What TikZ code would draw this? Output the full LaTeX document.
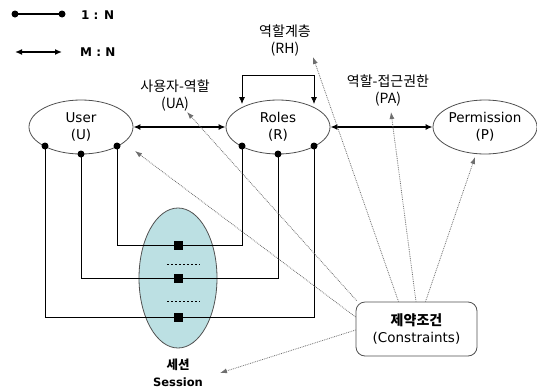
\documentclass[tikz,border=0pt]{standalone}
\usepackage{fontspec}
\setmainfont{DejaVu Sans}
\newfontfamily\kr{Noto Sans CJK KR}
\usetikzlibrary{arrows.meta,shapes.geometric}
\definecolor{sessfill}{RGB}{188,224,227}
\definecolor{ellline}{RGB}{80,80,80}
\definecolor{dotgray}{RGB}{110,110,110}
\tikzset{
  lbl/.style={font=\fontsize{13.5}{16.5}\selectfont, align=center, inner sep=0pt},
  krlbl/.style={lbl, font=\kr\fontsize{14}{17}\selectfont},
  ent/.style={ellipse, draw=ellline, thick, minimum width=104pt, minimum height=54pt, inner sep=0pt, align=center, font=\fontsize{13.5}{16.5}\selectfont},
  rel/.style={line width=1.6pt, {Latex[length=7pt,width=6pt]}-{Latex[length=7pt,width=6pt]}},
  link/.style={line width=0.8pt},
  dotmark/.style={circle, fill=black, inner sep=0pt, minimum size=7pt},
  sq/.style={rectangle, fill=black, inner sep=0pt, minimum size=9pt},
  cons/.style={densely dotted, dotgray, line width=0.8pt, -{Latex[length=7pt,width=5pt]}},
  rh/.style={line width=0.8pt, -{Latex[length=7pt,width=6pt]}},
  leg/.style={inner sep=0pt, anchor=west, font=\bfseries\fontsize{12}{14}\selectfont}
}
\begin{document}
\begin{tikzpicture}[x=1pt,y=-1pt]
\useasboundingbox (0,0) rectangle (537,388);
% legend
\coordinate (la) at (15,14);
\coordinate (lb) at (62,14);
\draw[line width=1.6pt] (la) -- (lb);
\node[dotmark] at (la) {};
\node[dotmark] at (lb) {};
\node[leg] (l1n) at (81,15) {1 : N};
\coordinate (ma) at (15,52);
\coordinate (mb) at (62,52);
\draw[rel] (ma) -- (mb);
\node[leg] (lmn) at (80,52) {M : N};
% entities
\node[ent] (U) at (81,127) {User\\(U)};
\node[ent] (R) at (278,127) {Roles\\(R)};
\node[ent] (P) at (485,127) {Permission\\(P)};
\draw[rel] (U) -- (R);
\draw[rel] (R) -- (P);
% labels
\node[krlbl] (UAl) at (175,96) {사용자-역할\\(UA)};
\node[krlbl] (RHl) at (285,41) {역할계층\\(RH)};
\node[krlbl] (PAl) at (388,91) {역할-접근권한\\(PA)};
% RH loop
\coordinate (rhL) at (242,104);
\coordinate (rhR) at (314,104);
\coordinate (rhT) at (278,75);
\draw[rh] (rhT -| rhR) -- (rhR);
\draw[rh] (rhR |- rhT) -- (rhT -| rhL) -- (rhL);
% session
\node[ellipse, draw=ellline, thick, fill=sessfill, minimum width=78pt, minimum height=140pt, inner sep=0pt] (S) at (178,278) {};
\node[sq] (s1) at (178,245) {};
\node[sq] (s2) at (178,278) {};
\node[sq] (s3) at (178,317) {};
\draw[line width=0.7pt, dash pattern=on 2pt off 2pt] (167,264) -- (200,264);
\draw[line width=0.7pt, dash pattern=on 2pt off 2pt] (167,301) -- (200,301);
\node[lbl, font=\kr\bfseries\fontsize{12.5}{16}\selectfont] (Sk) at (178,365) {세션};
\node[lbl, font=\bfseries\fontsize{11.5}{16}\selectfont] (Se) at (178,382) {Session};
% dots and links
\coordinate (u1) at (45,146);
\coordinate (u2) at (81,154);
\coordinate (u3) at (117,146);
\coordinate (r1) at (242,146);
\coordinate (r2) at (278,154);
\coordinate (r3) at (314,146);
\draw[link] (u3) -- (u3 |- s1) -- (r1 |- s1) -- (r1);
\draw[link] (u2) -- (u2 |- s2) -- (r2 |- s2) -- (r2);
\draw[link] (u1) -- (u1 |- s3) -- (r3 |- s3) -- (r3);
\foreach \p in {u1,u2,u3,r1,r2,r3} \node[dotmark] at (\p) {};
\node[sq] at (s1) {};
\node[sq] at (s2) {};
\node[sq] at (s3) {};
% constraints
\node[draw=ellline, thick, rounded corners=9pt, minimum width=121pt, minimum height=54pt, align=center, font=\fontsize{13.5}{16.5}\selectfont] (C) at (416.5,329) {{\kr\bfseries\fontsize{14}{16.5}\selectfont 제약조건}\\(Constraints)};
\coordinate (tUA) at (187,112);
\coordinate (tU) at (135,151);
\coordinate (tRH) at (313,57);
\coordinate (tPA) at (391,112);
\coordinate (tP) at (475,157);
\coordinate (tS) at (220,373);
\draw[cons] ([xshift=1pt,yshift=1pt]C.north west) -- (tUA);
\draw[cons] ([yshift=12pt]C.west) -- (tU);
\draw[cons] ([xshift=-18pt]C.north) -- (tRH);
\draw[cons] ([xshift=-0.5pt]C.north) -- (tPA);
\draw[cons] ([xshift=9pt]C.north) -- (tP);
\draw[cons] ([yshift=-1pt]C.west) -- (tS);
\end{tikzpicture}
\end{document}
